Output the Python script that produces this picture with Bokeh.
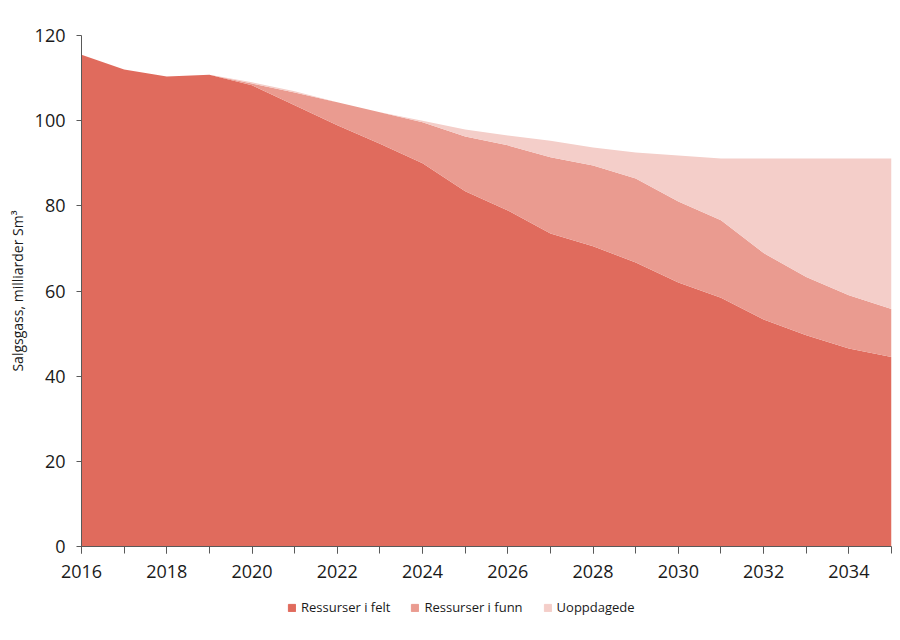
from bokeh.plotting import figure
from bokeh.layouts import column
from bokeh.models import Range1d, SingleIntervalTicker, Legend, LegendItem, ColumnDataSource
from bokeh.embed import file_html
from bokeh.resources import INLINE

years = list(range(2016, 2036))
felt = [115.5, 112.0, 110.4, 110.8, 108.3, 103.6, 98.9, 94.6, 90.0, 83.4,
        78.9, 73.5, 70.5, 66.7, 62.0, 58.4, 53.3, 49.6, 46.5, 44.5]
funn = [0.0, 0.0, 0.0, 0.0, 0.4, 3.0, 5.4, 7.4, 9.6, 12.9,
        15.3, 17.9, 19.0, 19.7, 19.0, 18.2, 15.6, 13.7, 12.5, 11.3]
uoppdagede = [0.0, 0.0, 0.0, 0.0, 0.3, 0.3, 0.0, 0.0, 0.4, 1.6,
              2.3, 3.9, 4.2, 6.1, 10.8, 14.5, 22.2, 27.8, 32.1, 35.3]
names = ["Ressurser i felt", "Ressurser i funn", "Uoppdagede"]
colors = ["#E06B5D", "#EA9B90", "#F4CEC9"]

src = ColumnDataSource(dict(year=years, felt=felt, funn=funn, uopp=uoppdagede))

FONT = "Open Sans"
p = figure(width=900, height=590, output_backend="svg", toolbar_location=None,
           x_range=Range1d(2016, 2035), y_range=Range1d(0, 120),
           min_border_left=81, min_border_right=9, min_border_top=35, min_border_bottom=44)
p.outline_line_color = None
p.xgrid.visible = False
p.ygrid.visible = False
p.background_fill_color = "white"
p.border_fill_color = "white"

p.varea_stack(stackers=["felt", "funn", "uopp"], x="year", color=colors, source=src)

p.xaxis.ticker = SingleIntervalTicker(interval=2, num_minor_ticks=2)
p.yaxis.ticker = SingleIntervalTicker(interval=20, num_minor_ticks=0)
for ax in (p.xaxis[0], p.yaxis[0]):
    ax.axis_line_color = "#595959"
    ax.major_tick_line_color = "#595959"
    ax.minor_tick_line_color = "#595959"
    ax.major_tick_in = 0
    ax.minor_tick_in = 0
    ax.major_label_text_font = FONT
    ax.major_label_text_font_size = "18px"
    ax.major_label_text_color = "#1a1a1a"
p.xaxis.major_tick_out = 7
p.xaxis.minor_tick_out = 7
p.xaxis.major_label_standoff = 11
p.yaxis.major_tick_out = 5
p.yaxis.minor_tick_out = 0
p.yaxis.major_label_standoff = 11
p.yaxis.axis_label = "Salgsgass, milliarder Sm³"
p.yaxis.axis_label_text_font = FONT
p.yaxis.axis_label_text_font_size = "14px"
p.yaxis.axis_label_text_font_style = "normal"
p.yaxis.axis_label_text_color = "#1a1a1a"
p.yaxis.axis_label_standoff = 5

# legend strip below the chart
lg = figure(width=900, height=50, output_backend="svg", toolbar_location=None,
            x_axis_location=None, y_axis_location=None,
            x_range=Range1d(0, 1), y_range=Range1d(0, 1),
            min_border_left=0, min_border_right=0, min_border_top=0, min_border_bottom=0)
lg.outline_line_color = None
lg.xgrid.visible = False
lg.ygrid.visible = False
lg.border_fill_color = "white"
lg.background_fill_color = "white"
dummy = [lg.quad(left=[5], right=[6], bottom=[5], top=[6], color=c) for c in colors]

legend = Legend(items=[LegendItem(label=n, renderers=[r]) for n, r in zip(names, dummy)],
                orientation="horizontal", location=(206, 24))
legend.label_text_font = FONT
legend.label_text_font_size = "13px"
legend.label_text_color = "#1a1a1a"
legend.glyph_width = 9
legend.glyph_height = 9
legend.label_standoff = 5
legend.spacing = 20
legend.padding = 0
legend.margin = 0
legend.border_line_color = None
legend.background_fill_alpha = 0
lg.add_layout(legend, "center")

layout = column(p, lg, spacing=0)
open("out.html", "w").write(file_html(layout, INLINE))
